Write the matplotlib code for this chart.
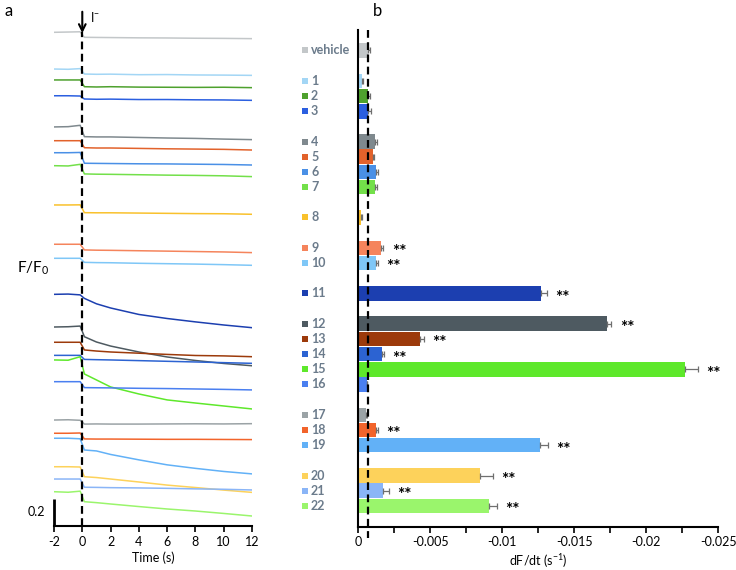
import matplotlib
matplotlib.use("Agg")
import matplotlib.pyplot as plt
from matplotlib.transforms import blended_transform_factory
import numpy as np

plt.rcParams['font.family'] = ['Lato', 'DejaVu Sans']
plt.rcParams['axes.unicode_minus'] = False
plt.rcParams['mathtext.fontset'] = 'custom'
plt.rcParams['mathtext.rm'] = 'Lato'
plt.rcParams['mathtext.it'] = 'Lato:italic'
plt.rcParams['mathtext.bf'] = 'Lato:bold'

# ---- data ----
compounds = ['vehicle', '1', '2', '3', '4', '5', '6', '7', '8', '9', '10', '11',
             '12', '13', '14', '15', '16', '17', '18', '19', '20', '21', '22']
groups = [['vehicle'], ['1', '2', '3'], ['4', '5', '6', '7'], ['8'], ['9', '10'],
          ['11'], ['12', '13', '14', '15', '16'], ['17', '18', '19'], ['20', '21', '22']]
colors = ['#c3c7c9', '#a3d6f5', '#4ea12e', '#2b5fe0', '#7f898e', '#e2622b', '#4a90e6',
          '#73e04a', '#f9c12c', '#f5845c', '#7fc7f7', '#1c3fb0', '#4e5a61', '#9c3a0b',
          '#2c63d2', '#5ee82b', '#4a7ff0', '#9ba3a6', '#f2642b', '#62b1f7', '#fdd25b',
          '#8ab5f7', '#9af56c']

# initial slope dF/dt (s^-1) and SEM
rates = [-0.00067, -0.00028, -0.0007, -0.0007, -0.00116, -0.001, -0.00123, -0.00116,
         -0.00019, -0.00158, -0.00123, -0.01266, -0.0173, -0.00425, -0.00163, -0.0227,
         -0.00059, -0.00054, -0.00121, -0.0126, -0.00848, -0.0017, -0.00906]
sem = [0.00014, 0.00007, 0.0001, 0.00015, 0.00016, 0.00011, 0.00014, 0.00013,
       0.00007, 0.00016, 0.00014, 0.00042, 0.00028, 0.00028, 0.00014, 0.00088,
       0.0, 0.00005, 0.00014, 0.00058, 0.00089, 0.00044, 0.00058]
signif = ['9', '10', '11', '12', '13', '14', '15', '18', '19', '20', '21', '22']

# fluorescence traces F/F0 (same order as compounds)
time = [-2, -1, -0.15, 0.15, 1, 2, 4, 6, 8, 10, 12]
traces = [
    [1.000, 1.002, 1.004, 0.963, 0.962, 0.961, 0.959, 0.958, 0.956, 0.955, 0.953],
    [1.000, 0.998, 1.003, 0.963, 0.961, 0.962, 0.958, 0.959, 0.956, 0.955, 0.953],
    [1.000, 1.000, 1.000, 0.950, 0.948, 0.950, 0.947, 0.946, 0.945, 0.946, 0.943],
    [1.000, 1.000, 0.998, 0.976, 0.974, 0.975, 0.972, 0.972, 0.970, 0.969, 0.966],
    [1.000, 1.002, 1.012, 0.928, 0.926, 0.926, 0.922, 0.918, 0.915, 0.910, 0.906],
    [1.000, 1.000, 1.000, 0.948, 0.946, 0.946, 0.943, 0.940, 0.938, 0.936, 0.931],
    [1.000, 1.000, 1.002, 0.922, 0.921, 0.920, 0.918, 0.917, 0.915, 0.913, 0.909],
    [1.000, 0.998, 1.010, 0.939, 0.937, 0.936, 0.933, 0.930, 0.928, 0.925, 0.919],
    [1.000, 1.000, 1.001, 0.943, 0.942, 0.942, 0.940, 0.938, 0.936, 0.935, 0.931],
    [1.000, 1.000, 1.000, 0.958, 0.956, 0.955, 0.952, 0.949, 0.946, 0.943, 0.938],
    [1.000, 1.000, 1.000, 0.970, 0.968, 0.967, 0.963, 0.960, 0.957, 0.953, 0.948],
    [1.000, 1.002, 0.996, 0.970, 0.930, 0.899, 0.851, 0.821, 0.796, 0.773, 0.753],
    [1.000, 1.002, 1.007, 0.928, 0.889, 0.859, 0.815, 0.778, 0.752, 0.730, 0.713],
    [1.000, 1.000, 1.000, 0.943, 0.935, 0.928, 0.919, 0.910, 0.902, 0.899, 0.893],
    [1.000, 1.000, 1.000, 0.970, 0.968, 0.966, 0.961, 0.956, 0.951, 0.946, 0.941],
    [1.000, 0.998, 1.024, 0.896, 0.852, 0.800, 0.748, 0.704, 0.681, 0.659, 0.637],
    [1.000, 1.000, 1.000, 0.956, 0.955, 0.954, 0.951, 0.949, 0.946, 0.943, 0.939],
    [1.000, 1.002, 0.998, 0.970, 0.971, 0.970, 0.970, 0.971, 0.972, 0.971, 0.973],
    [1.000, 1.000, 1.002, 0.958, 0.957, 0.957, 0.956, 0.955, 0.955, 0.954, 0.953],
    [1.000, 1.000, 0.996, 0.913, 0.906, 0.880, 0.840, 0.803, 0.777, 0.754, 0.736],
    [1.000, 1.000, 0.998, 0.926, 0.920, 0.909, 0.887, 0.864, 0.846, 0.827, 0.810],
    [1.000, 1.000, 1.000, 0.939, 0.938, 0.936, 0.934, 0.931, 0.927, 0.924, 0.919],
    [1.000, 0.996, 1.004, 0.926, 0.919, 0.909, 0.890, 0.872, 0.857, 0.839, 0.820],
]
# vertical stacking of the traces (layout)
trace_offsets = [3.657, 3.385, 3.304, 3.187, 2.956, 2.854, 2.765, 2.669, 2.378,
                 2.087, 1.983, 1.716, 1.474, 1.361, 1.264, 1.230, 1.069, 0.785,
                 0.687, 0.650, 0.439, 0.348, 0.254]

W, H = 736, 570
fig = plt.figure(figsize=(W / 100, H / 100), dpi=100)

# ---- panel a: traces ----
ax = fig.add_axes([54 / W, 1 - 526 / H, 198 / W, 521 / H])
for tr, off, c in zip(traces, trace_offsets, colors):
    ax.plot(time, np.array(tr) - 1 + off, color=c, lw=1.1)
ax.set_xlim(-2, 12)
ax.set_ylim(0, 521 / 135)
for s in ['left', 'top', 'right']:
    ax.spines[s].set_visible(False)
ax.spines['bottom'].set_linewidth(1.5)
ax.set_yticks([])
ax.set_xticks(range(-2, 13, 2))
ax.tick_params(axis='x', direction='out', length=4, width=1.2, labelsize=9, pad=3)
ax.set_xlabel('Time (s)', fontsize=9, labelpad=3)
ax.plot([0, 0], [0, 3.66], color='black', lw=1.6, dashes=(3.5, 2))
ax.annotate('', xy=(0, 3.63), xytext=(0, 3.83),
            arrowprops=dict(arrowstyle='->', lw=1.5, color='black',
                            mutation_scale=12), annotation_clip=False)
ax.text(0.55, 3.77, r'I$^{-}$', fontsize=9, ha='left', va='center')
ax.plot([-2, -2], [0, 0.2], color='black', lw=2, clip_on=False,
        solid_capstyle='butt')
ax.text(-2.6, 0.1, '0.2', fontsize=9, ha='right', va='center')
fig.text(33 / W, 1 - 268 / H, r'F/F$_0$', fontsize=11, ha='center', va='center')
fig.text(9 / W, 1 - 11 / H, 'a', fontsize=12, ha='center', va='center')
fig.text(378 / W, 1 - 11 / H, 'b', fontsize=12, ha='center', va='center')

# ---- panel b: bars ----
slots = {}
pos = 0
for g in groups:
    for name in g:
        slots[name] = pos
        pos += 1
    pos += 1
y = [slots[n] for n in compounds]

ax2 = fig.add_axes([358.3 / W, 1 - 526.7 / H, 360 / W, 496.7 / H])
ax2.barh(y, rates, height=0.96, color=colors,
         xerr=[sem, [0] * len(sem)],
         error_kw=dict(ecolor='#6f6f6f', elinewidth=0.9, capsize=2, capthick=0.9))
ax2.set_xlim(0, -0.025)
ax2.set_ylim(31.37, -1.35)
for s in ['top', 'right']:
    ax2.spines[s].set_visible(False)
ax2.spines['left'].set_linewidth(1.5)
ax2.spines['bottom'].set_linewidth(1.5)
ax2.set_yticks([])
ticks = [0, -0.005, -0.01, -0.015, -0.02, -0.025]
ax2.set_xticks(ticks)
ax2.set_xticklabels(['0', '-0.005', '-0.01', '-0.015', '-0.02', '-0.025'])
ax2.set_xticks([-0.0025, -0.0075, -0.0125, -0.0175, -0.0225], minor=True)
ax2.tick_params(axis='x', which='both', direction='out', length=4, width=1.2,
                labelsize=9, pad=3)
ax2.set_xlabel(r'dF/dt (s$^{-1}$)', fontsize=9, labelpad=3)
ax2.plot([rates[0], rates[0]], [-1.35, 32.1], color='black', lw=1.6,
         dashes=(3.5, 2), clip_on=False)

for n, v, e, yy in zip(compounds, rates, sem, y):
    if n in signif:
        ax2.annotate('**', xy=(v - e, yy), xytext=(6, -3.2),
                     textcoords='offset points', ha='left', va='center',
                     fontsize=12.5, fontweight='bold')

# category labels with colour keys
tr = blended_transform_factory(fig.transFigure, ax2.transData)
for n, c, yy in zip(compounds, colors, y):
    ax2.scatter([304.5 / W], [yy], s=22, marker='s', color=c, transform=tr,
                clip_on=False, linewidths=0)
    ax2.text(311 / W, yy, n, transform=tr, fontsize=9, fontweight='bold',
             color='#6b7b8b', ha='left', va='center')

fig.savefig('out.png', dpi=100)
